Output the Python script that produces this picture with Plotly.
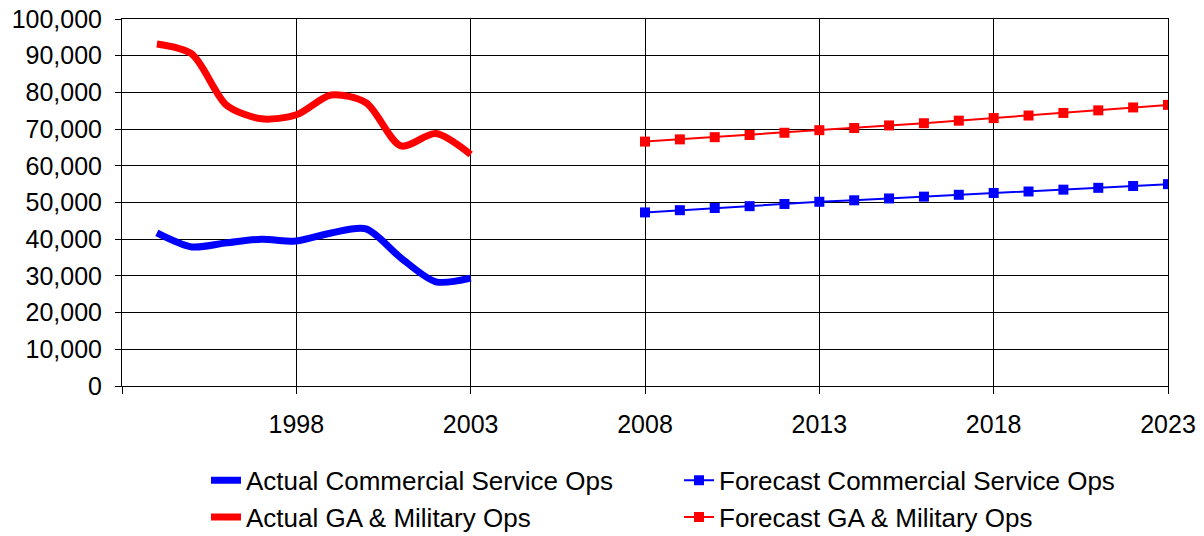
import plotly.graph_objects as go

actual_years = [1994, 1995, 1996, 1997, 1998, 1999, 2000, 2001, 2002, 2003]
actual_commercial = [41700, 37900, 39000, 40000, 39500, 41700, 42800, 34900, 28400, 29400]
actual_ga_mil = [93200, 90500, 76500, 72800, 73900, 79300, 77200, 65400, 68800, 63100]

forecast_years = list(range(2008, 2024))
forecast_commercial = [47300, 47900, 48500, 49000, 49600, 50200, 50600, 51100,
                       51600, 52100, 52600, 53000, 53500, 54000, 54500, 55000]
forecast_ga_mil = [66600, 67200, 67800, 68400, 69000, 69700, 70300, 71000,
                   71600, 72300, 73000, 73700, 74400, 75100, 75900, 76600]

x_ticks = [1993, 1998, 2003, 2008, 2013, 2018, 2023]
x_labels = ["", "1998", "2003", "2008", "2013", "2018", "2023"]

fig = go.Figure()

# order gives two legend columns: actual | forecast
fig.add_trace(go.Scatter(x=actual_years, y=actual_commercial, mode="lines",
                         name="Actual Commercial Service Ops",
                         line=dict(color="#0000ff", width=7, shape="spline", smoothing=0.8)))
fig.add_trace(go.Scatter(x=forecast_years, y=forecast_commercial, mode="lines+markers",
                         name="Forecast Commercial Service Ops",
                         line=dict(color="#0000ff", width=2),
                         marker=dict(symbol="square", size=10, color="#0000ff")))
fig.add_trace(go.Scatter(x=actual_years, y=actual_ga_mil, mode="lines",
                         name="Actual GA & Military Ops",
                         line=dict(color="#ff0000", width=7, shape="spline", smoothing=0.8)))
fig.add_trace(go.Scatter(x=forecast_years, y=forecast_ga_mil, mode="lines+markers",
                         name="Forecast GA & Military Ops",
                         line=dict(color="#ff0000", width=2),
                         marker=dict(symbol="square", size=10, color="#ff0000")))

# page body has an 8px margin, so the figure is a bit smaller and shifted
fig.update_layout(
    width=1188, height=528,
    margin=dict(l=114, r=28, t=11, b=150),
    paper_bgcolor="white", plot_bgcolor="white",
    font=dict(family="Liberation Sans, Arial", size=25, color="black"),
    legend=dict(orientation="h", x=0.0803, xanchor="left",
                yref="container", y=0.15, yanchor="top",
                entrywidth=428, entrywidthmode="pixels", tracegroupgap=0,
                font=dict(size=26)),
)

fig.update_xaxes(range=[1993, 2023], tickvals=x_ticks, ticktext=x_labels,
                 showgrid=True, gridcolor="black", gridwidth=1,
                 showline=True, linecolor="black", linewidth=1, mirror=True,
                 ticks="outside", ticklen=7, tickcolor="black", zeroline=False,
                 ticklabelstandoff=9, ticklabeloverflow="allow", automargin=False)
fig.update_yaxes(range=[0, 100000], dtick=10000, tickformat=",",
                 showgrid=True, gridcolor="black", gridwidth=1,
                 showline=True, linecolor="black", linewidth=1, mirror=True,
                 ticks="outside", ticklen=6, tickcolor="black", zeroline=False,
                 ticklabelstandoff=8, ticklabeloverflow="allow", automargin=False)

fig.write_html("out.html")
